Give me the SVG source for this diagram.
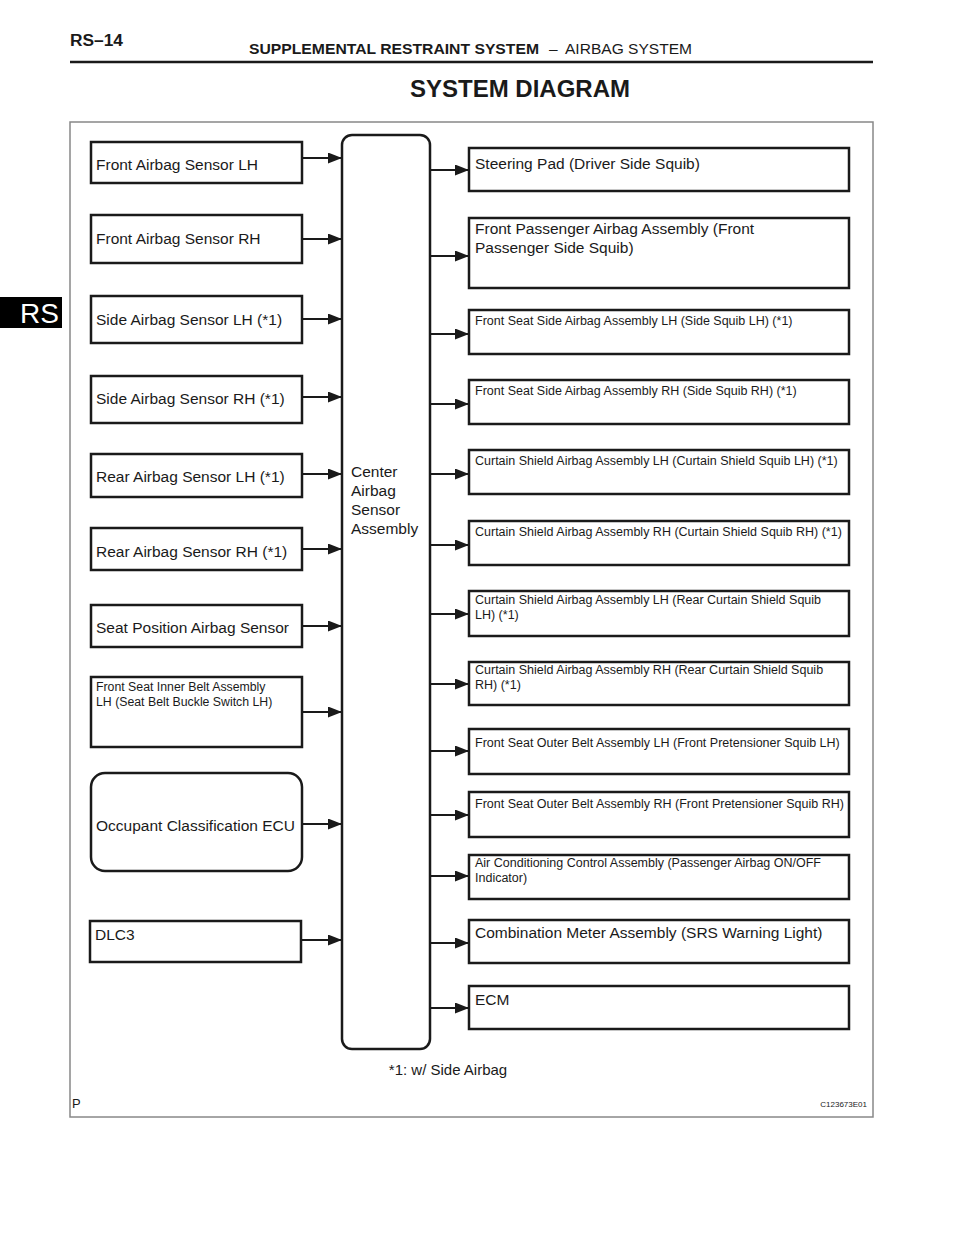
<svg xmlns="http://www.w3.org/2000/svg" width="960" height="1242" viewBox="0 0 960 1242">
<style>
.t{font-family:"Liberation Sans",Arial,sans-serif;fill:#1a1a1a}
.b{fill:#fff;stroke:#1a1a1a;stroke-width:2.5}
.l{font-size:15.5px}
.s{font-size:12.5px}
.s2{font-size:12.3px}
.c{stroke:#1a1a1a;stroke-width:2;fill:none}
</style>
<defs>
<marker id="ah" viewBox="0 0 14 11" refX="14" refY="5.5" markerWidth="14" markerHeight="11" markerUnits="userSpaceOnUse" orient="auto">
<path d="M0,0 L14,5.5 L0,11 Z" fill="#1a1a1a"/>
</marker>
</defs>
<rect width="960" height="1242" fill="#fff"/>
<g id="header">
<text class="t" x="70" y="46" font-size="16" font-weight="bold" textLength="53" lengthAdjust="spacingAndGlyphs">RS–14</text>
<text class="t" x="249" y="54" font-size="15.5" font-weight="bold" textLength="290" lengthAdjust="spacingAndGlyphs">SUPPLEMENTAL RESTRAINT SYSTEM</text>
<text class="t" x="549" y="54" font-size="15.5">–</text>
<text class="t" x="565" y="54" font-size="15.5" textLength="127" lengthAdjust="spacingAndGlyphs">AIRBAG SYSTEM</text>
<line x1="70" y1="62" x2="873" y2="62" stroke="#1a1a1a" stroke-width="2.5"/>
<text class="t" x="520" y="97" font-size="24" font-weight="bold" text-anchor="middle">SYSTEM DIAGRAM</text>
</g>
<g id="tab">
<rect x="0" y="297" width="62" height="31" fill="#000"/>
<text x="59" y="323" font-family="Liberation Sans,Arial,sans-serif" font-size="28" fill="#fff" text-anchor="end">RS</text>
</g>
<rect id="frame" x="70" y="122" width="803" height="995" fill="none" stroke="#888" stroke-width="1.5"/>
<g id="connectors">
<line class="c" x1="302" y1="158" x2="342" y2="158" marker-end="url(#ah)"/>
<line class="c" x1="302" y1="239" x2="342" y2="239" marker-end="url(#ah)"/>
<line class="c" x1="302" y1="319" x2="342" y2="319" marker-end="url(#ah)"/>
<line class="c" x1="302" y1="397" x2="342" y2="397" marker-end="url(#ah)"/>
<line class="c" x1="302" y1="474" x2="342" y2="474" marker-end="url(#ah)"/>
<line class="c" x1="302" y1="549" x2="342" y2="549" marker-end="url(#ah)"/>
<line class="c" x1="302" y1="626" x2="342" y2="626" marker-end="url(#ah)"/>
<line class="c" x1="302" y1="712" x2="342" y2="712" marker-end="url(#ah)"/>
<line class="c" x1="302" y1="824" x2="342" y2="824" marker-end="url(#ah)"/>
<line class="c" x1="301" y1="940" x2="342" y2="940" marker-end="url(#ah)"/>
<line class="c" x1="430" y1="170" x2="469" y2="170" marker-end="url(#ah)"/>
<line class="c" x1="430" y1="256" x2="469" y2="256" marker-end="url(#ah)"/>
<line class="c" x1="430" y1="334" x2="469" y2="334" marker-end="url(#ah)"/>
<line class="c" x1="430" y1="404" x2="469" y2="404" marker-end="url(#ah)"/>
<line class="c" x1="430" y1="474" x2="469" y2="474" marker-end="url(#ah)"/>
<line class="c" x1="430" y1="545" x2="469" y2="545" marker-end="url(#ah)"/>
<line class="c" x1="430" y1="614" x2="469" y2="614" marker-end="url(#ah)"/>
<line class="c" x1="430" y1="684" x2="469" y2="684" marker-end="url(#ah)"/>
<line class="c" x1="430" y1="751" x2="469" y2="751" marker-end="url(#ah)"/>
<line class="c" x1="430" y1="815" x2="469" y2="815" marker-end="url(#ah)"/>
<line class="c" x1="430" y1="876" x2="469" y2="876" marker-end="url(#ah)"/>
<line class="c" x1="430" y1="943" x2="469" y2="943" marker-end="url(#ah)"/>
<line class="c" x1="430" y1="1008" x2="469" y2="1008" marker-end="url(#ah)"/>
</g>
<g id="center">
<rect class="b" x="342" y="135" width="88" height="914" rx="10"/>
<text class="t l" x="351" y="477"><tspan x="351">Center</tspan><tspan x="351" dy="19">Airbag</tspan><tspan x="351" dy="19">Sensor</tspan><tspan x="351" dy="19">Assembly</tspan></text>
</g>
<g id="n-front-lh"><rect class="b" x="91" y="142" width="211" height="41"/><text class="t l" x="96" y="170">Front Airbag Sensor LH</text></g>
<g id="n-front-rh"><rect class="b" x="91" y="215" width="211" height="48"/><text class="t l" x="96" y="244">Front Airbag Sensor RH</text></g>
<g id="n-side-lh"><rect class="b" x="91" y="296" width="211" height="47"/><text class="t l" x="96" y="325">Side Airbag Sensor LH (*1)</text></g>
<g id="n-side-rh"><rect class="b" x="91" y="376" width="211" height="47"/><text class="t l" x="96" y="404">Side Airbag Sensor RH (*1)</text></g>
<g id="n-rear-lh"><rect class="b" x="91" y="454" width="211" height="43"/><text class="t l" x="96" y="482">Rear Airbag Sensor LH (*1)</text></g>
<g id="n-rear-rh"><rect class="b" x="91" y="528" width="211" height="42"/><text class="t l" x="96" y="557">Rear Airbag Sensor RH (*1)</text></g>
<g id="n-seatpos"><rect class="b" x="91" y="605" width="211" height="42"/><text class="t l" x="96" y="633">Seat Position Airbag Sensor</text></g>
<g id="n-innerbelt"><rect class="b" x="91" y="677" width="211" height="70"/><text class="t s2" x="96" y="691"><tspan x="96">Front Seat Inner Belt Assembly</tspan><tspan x="96" dy="15">LH (Seat Belt Buckle Switch LH)</tspan></text></g>
<g id="n-occupant"><rect class="b" x="91" y="773" width="211" height="98" rx="14"/><text class="t l" x="96" y="831">Occupant Classification ECU</text></g>
<g id="n-dlc3"><rect class="b" x="90" y="921" width="211" height="41"/><text class="t l" x="95" y="940">DLC3</text></g>
<g id="r-steering"><rect class="b" x="469" y="148" width="380" height="43"/><text class="t l" x="475" y="169">Steering Pad (Driver Side Squib)</text></g>
<g id="r-passenger"><rect class="b" x="469" y="218" width="380" height="70"/><text class="t l" x="475" y="234"><tspan x="475">Front Passenger Airbag Assembly (Front</tspan><tspan x="475" dy="19">Passenger Side Squib)</tspan></text></g>
<g id="r-seatside-lh"><rect class="b" x="469" y="310" width="380" height="44"/><text class="t s" x="475" y="325">Front Seat Side Airbag Assembly LH (Side Squib LH) (*1)</text></g>
<g id="r-seatside-rh"><rect class="b" x="469" y="380" width="380" height="44"/><text class="t s" x="475" y="395">Front Seat Side Airbag Assembly RH (Side Squib RH) (*1)</text></g>
<g id="r-curtain-lh"><rect class="b" x="469" y="450" width="380" height="44"/><text class="t s" x="475" y="465">Curtain Shield Airbag Assembly LH (Curtain Shield Squib LH) (*1)</text></g>
<g id="r-curtain-rh"><rect class="b" x="469" y="521" width="380" height="44"/><text class="t s" x="475" y="536">Curtain Shield Airbag Assembly RH (Curtain Shield Squib RH) (*1)</text></g>
<g id="r-rearcurtain-lh"><rect class="b" x="469" y="591" width="380" height="45"/><text class="t s" x="475" y="604"><tspan x="475">Curtain Shield Airbag Assembly LH (Rear Curtain Shield Squib</tspan><tspan x="475" dy="15">LH) (*1)</tspan></text></g>
<g id="r-rearcurtain-rh"><rect class="b" x="469" y="662" width="380" height="43"/><text class="t s" x="475" y="674"><tspan x="475">Curtain Shield Airbag Assembly RH (Rear Curtain Shield Squib</tspan><tspan x="475" dy="15">RH) (*1)</tspan></text></g>
<g id="r-outerbelt-lh"><rect class="b" x="469" y="729" width="380" height="45"/><text class="t s" x="475" y="747">Front Seat Outer Belt Assembly LH (Front Pretensioner Squib LH)</text></g>
<g id="r-outerbelt-rh"><rect class="b" x="469" y="792" width="380" height="45"/><text class="t s" x="475" y="808">Front Seat Outer Belt Assembly RH (Front Pretensioner Squib RH)</text></g>
<g id="r-aircon"><rect class="b" x="469" y="855" width="380" height="44"/><text class="t s" x="475" y="867"><tspan x="475">Air Conditioning Control Assembly (Passenger Airbag ON/OFF</tspan><tspan x="475" dy="15">Indicator)</tspan></text></g>
<g id="r-combo"><rect class="b" x="469" y="920" width="380" height="43"/><text class="t l" x="475" y="938">Combination Meter Assembly (SRS Warning Light)</text></g>
<g id="r-ecm"><rect class="b" x="469" y="986" width="380" height="43"/><text class="t l" x="475" y="1005">ECM</text></g>
<g id="notes">
<text class="t" x="448" y="1075" font-size="15" text-anchor="middle">*1: w/ Side Airbag</text>
<text class="t" x="72" y="1108" font-size="13">P</text>
<text class="t" x="867" y="1107" font-size="8" text-anchor="end">C123673E01</text>
</g>
</svg>
